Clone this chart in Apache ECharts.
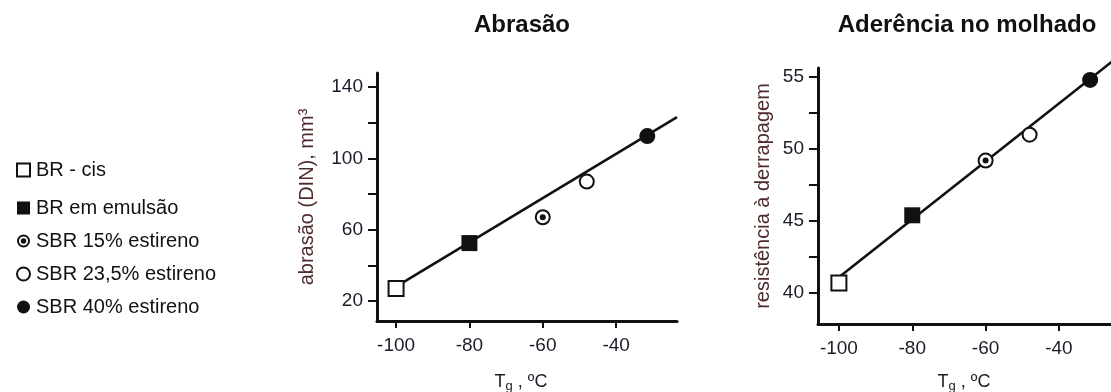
<!DOCTYPE html>
<html>
<head>
<meta charset="utf-8">
<script src="https://cdn.jsdelivr.net/npm/echarts@6/dist/echarts.min.js"></script>
<style>
  html, body { margin: 0; padding: 0; background: #fff; }
  #chart { width: 1111px; height: 392px; }
</style>
</head>
<body>
<div id="chart"></div>
<script>
// Glass transition temperature of each rubber (°C)
const tg = [-100, -80, -60, -48, -31.5];
const rubbers = ['BR - cis', 'BR em emulsão', 'SBR 15% estireno', 'SBR 23,5% estireno', 'SBR 40% estireno'];

// Abrasion loss (DIN), mm³
const abrasao = [27, 52.5, 67, 87, 112.5];
// Wet skid resistance
const aderencia = [40.7, 45.4, 49.2, 51, 54.8];

// Fitted trend lines: [x, y] end points
const abrasaoFit = [[-100, 28.1], [-23.4, 123.1]];
const aderenciaFit = [[-100, 41.1], [-23.9, 56.4]];

// Tick positions and labels
const xLabels = [-100, -80, -60, -40];
const abrasaoTicks = [20, 40, 60, 80, 100, 120, 140];
const abrasaoLabels = [20, 60, 100, 140];
const aderenciaTicks = [40, 42.5, 45, 47.5, 50, 52.5, 55];
const aderenciaLabels = [40, 45, 50, 55];

const FONT = '"Liberation Sans", Arial, sans-serif';
const INK = '#111';
const LABEL = '#1c1c28';

// ring with a centre dot, used as the legend icon of the 15% SBR
const bullseye = 'path://M10,0 A10,10 0 1,1 10,20 A10,10 0 1,1 10,0 Z ' +
  'M10,3 A7,7 0 1,0 10,17 A7,7 0 1,0 10,3 Z ' +
  'M10,5.8 A4.2,4.2 0 1,1 10,14.2 A4.2,4.2 0 1,1 10,5.8 Z';

// marker style for each rubber
const markers = [
  { symbol: 'rect', size: 15, itemStyle: { color: '#fff', borderColor: INK, borderWidth: 2, opacity: 1 } },
  { symbol: 'rect', size: 16, itemStyle: { color: INK, borderColor: INK, borderWidth: 0, opacity: 1 } },
  { symbol: 'circle', size: 14, itemStyle: { color: '#fff', borderColor: INK, borderWidth: 2, opacity: 1 } },
  { symbol: 'circle', size: 14, itemStyle: { color: '#fff', borderColor: INK, borderWidth: 2, opacity: 1 } },
  { symbol: 'circle', size: 16, itemStyle: { color: INK, borderColor: INK, borderWidth: 0, opacity: 1 } }
];

function xAxis(gridIndex, min, max, gap, shift) {
  return {
    type: 'value', gridIndex, min, max,
    name: 'T{g|g} , ºC',
    nameLocation: 'middle', nameGap: gap,
    nameTextStyle: {
      fontFamily: FONT, fontSize: 18, color: LABEL, padding: [0, shift, 0, 0],
      rich: { g: { fontFamily: FONT, fontSize: 13, color: LABEL, padding: [9, 0, 0, 0] } }
    },
    splitLine: { show: false },
    axisLine: { show: true, onZero: false, lineStyle: { color: INK, width: 3 } },
    axisTick: { show: true, length: 7, lineStyle: { color: INK, width: 2 }, customValues: xLabels },
    axisLabel: { fontFamily: FONT, fontSize: 19, color: LABEL, margin: 15, customValues: xLabels }
  };
}

function yAxis(gridIndex, min, max, ticks, labels, name, gap) {
  return {
    type: 'value', gridIndex, min, max,
    name, nameLocation: 'middle', nameGap: gap,
    nameTextStyle: { fontFamily: FONT, fontSize: 20, color: '#4f2c2c' },
    splitLine: { show: false },
    axisLine: { show: true, onZero: false, lineStyle: { color: INK, width: 3 } },
    axisTick: { show: true, length: 9, lineStyle: { color: INK, width: 2 }, customValues: ticks },
    axisLabel: { fontFamily: FONT, fontSize: 19, color: LABEL, margin: 14, customValues: labels }
  };
}

const series = [];
[[0, abrasao, abrasaoFit], [1, aderencia, aderenciaFit]].forEach(([g, values, fit]) => {
  series.push({
    type: 'line', xAxisIndex: g, yAxisIndex: g, data: fit,
    showSymbol: false, clip: false, silent: true, z: 1,
    lineStyle: { color: INK, width: 2.6 }
  });
  rubbers.forEach((name, i) => {
    const m = markers[i];
    series.push({
      type: 'scatter', name, xAxisIndex: g, yAxisIndex: g,
      data: [[tg[i], values[i]]],
      symbol: m.symbol, symbolSize: m.size, itemStyle: m.itemStyle, z: 3
    });
    if (i === 2) {
      // centre dot of the bullseye marker
      series.push({
        type: 'scatter', xAxisIndex: g, yAxisIndex: g,
        data: [[tg[i], values[i]]], silent: true,
        symbol: 'circle', symbolSize: 6, itemStyle: { color: INK, opacity: 1 }, z: 4
      });
    }
  });
});

const legendIcons = ['rect', 'rect', bullseye, 'circle', 'circle'];
const legendData = rubbers.map((name, i) => {
  const d = { name, icon: legendIcons[i] };
  if (i === 2) d.itemStyle = { color: INK, borderWidth: 0, opacity: 1 };
  return d;
});
const legendBase = {
  orient: 'vertical', left: 11, itemWidth: 13, itemHeight: 13, itemGap: 13,
  selectedMode: false,
  textStyle: { fontFamily: FONT, fontSize: 20, lineHeight: 20, color: INK, padding: [0, 0, 0, 1] }
};

const chart = echarts.init(document.getElementById('chart'), null, { renderer: 'canvas' });
chart.setOption({
  animation: false,
  backgroundColor: '#fff',
  title: [
    { text: 'Abrasão', left: 517, top: 8, textAlign: 'center',
      textStyle: { fontFamily: FONT, fontSize: 24, fontWeight: 'bold', color: INK } },
    { text: 'Aderência no molhado', left: 962, top: 8, textAlign: 'center',
      textStyle: { fontFamily: FONT, fontSize: 24, fontWeight: 'bold', color: INK } }
  ],
  legend: [
    Object.assign({}, legendBase, { top: 155, data: legendData.slice(0, 1) }),
    Object.assign({}, legendBase, { top: 193, data: legendData.slice(1) })
  ],
  grid: [
    { left: 377, top: 73, width: 300, height: 248, outerBoundsMode: 'none' },
    { left: 818, top: 68, width: 300, height: 256, outerBoundsMode: 'none' }
  ],
  xAxis: [xAxis(0, -105.2, -23.4, 50, 12), xAxis(1, -105.7, -23.9, 47, 8)],
  yAxis: [
    yAxis(0, 8.8, 147.9, abrasaoTicks, abrasaoLabels, 'abrasão (DIN), mm³', 60),
    yAxis(1, 37.85, 55.63, aderenciaTicks, aderenciaLabels, 'resistência à derrapagem', 45)
  ],
  series
});
</script>
</body>
</html>
